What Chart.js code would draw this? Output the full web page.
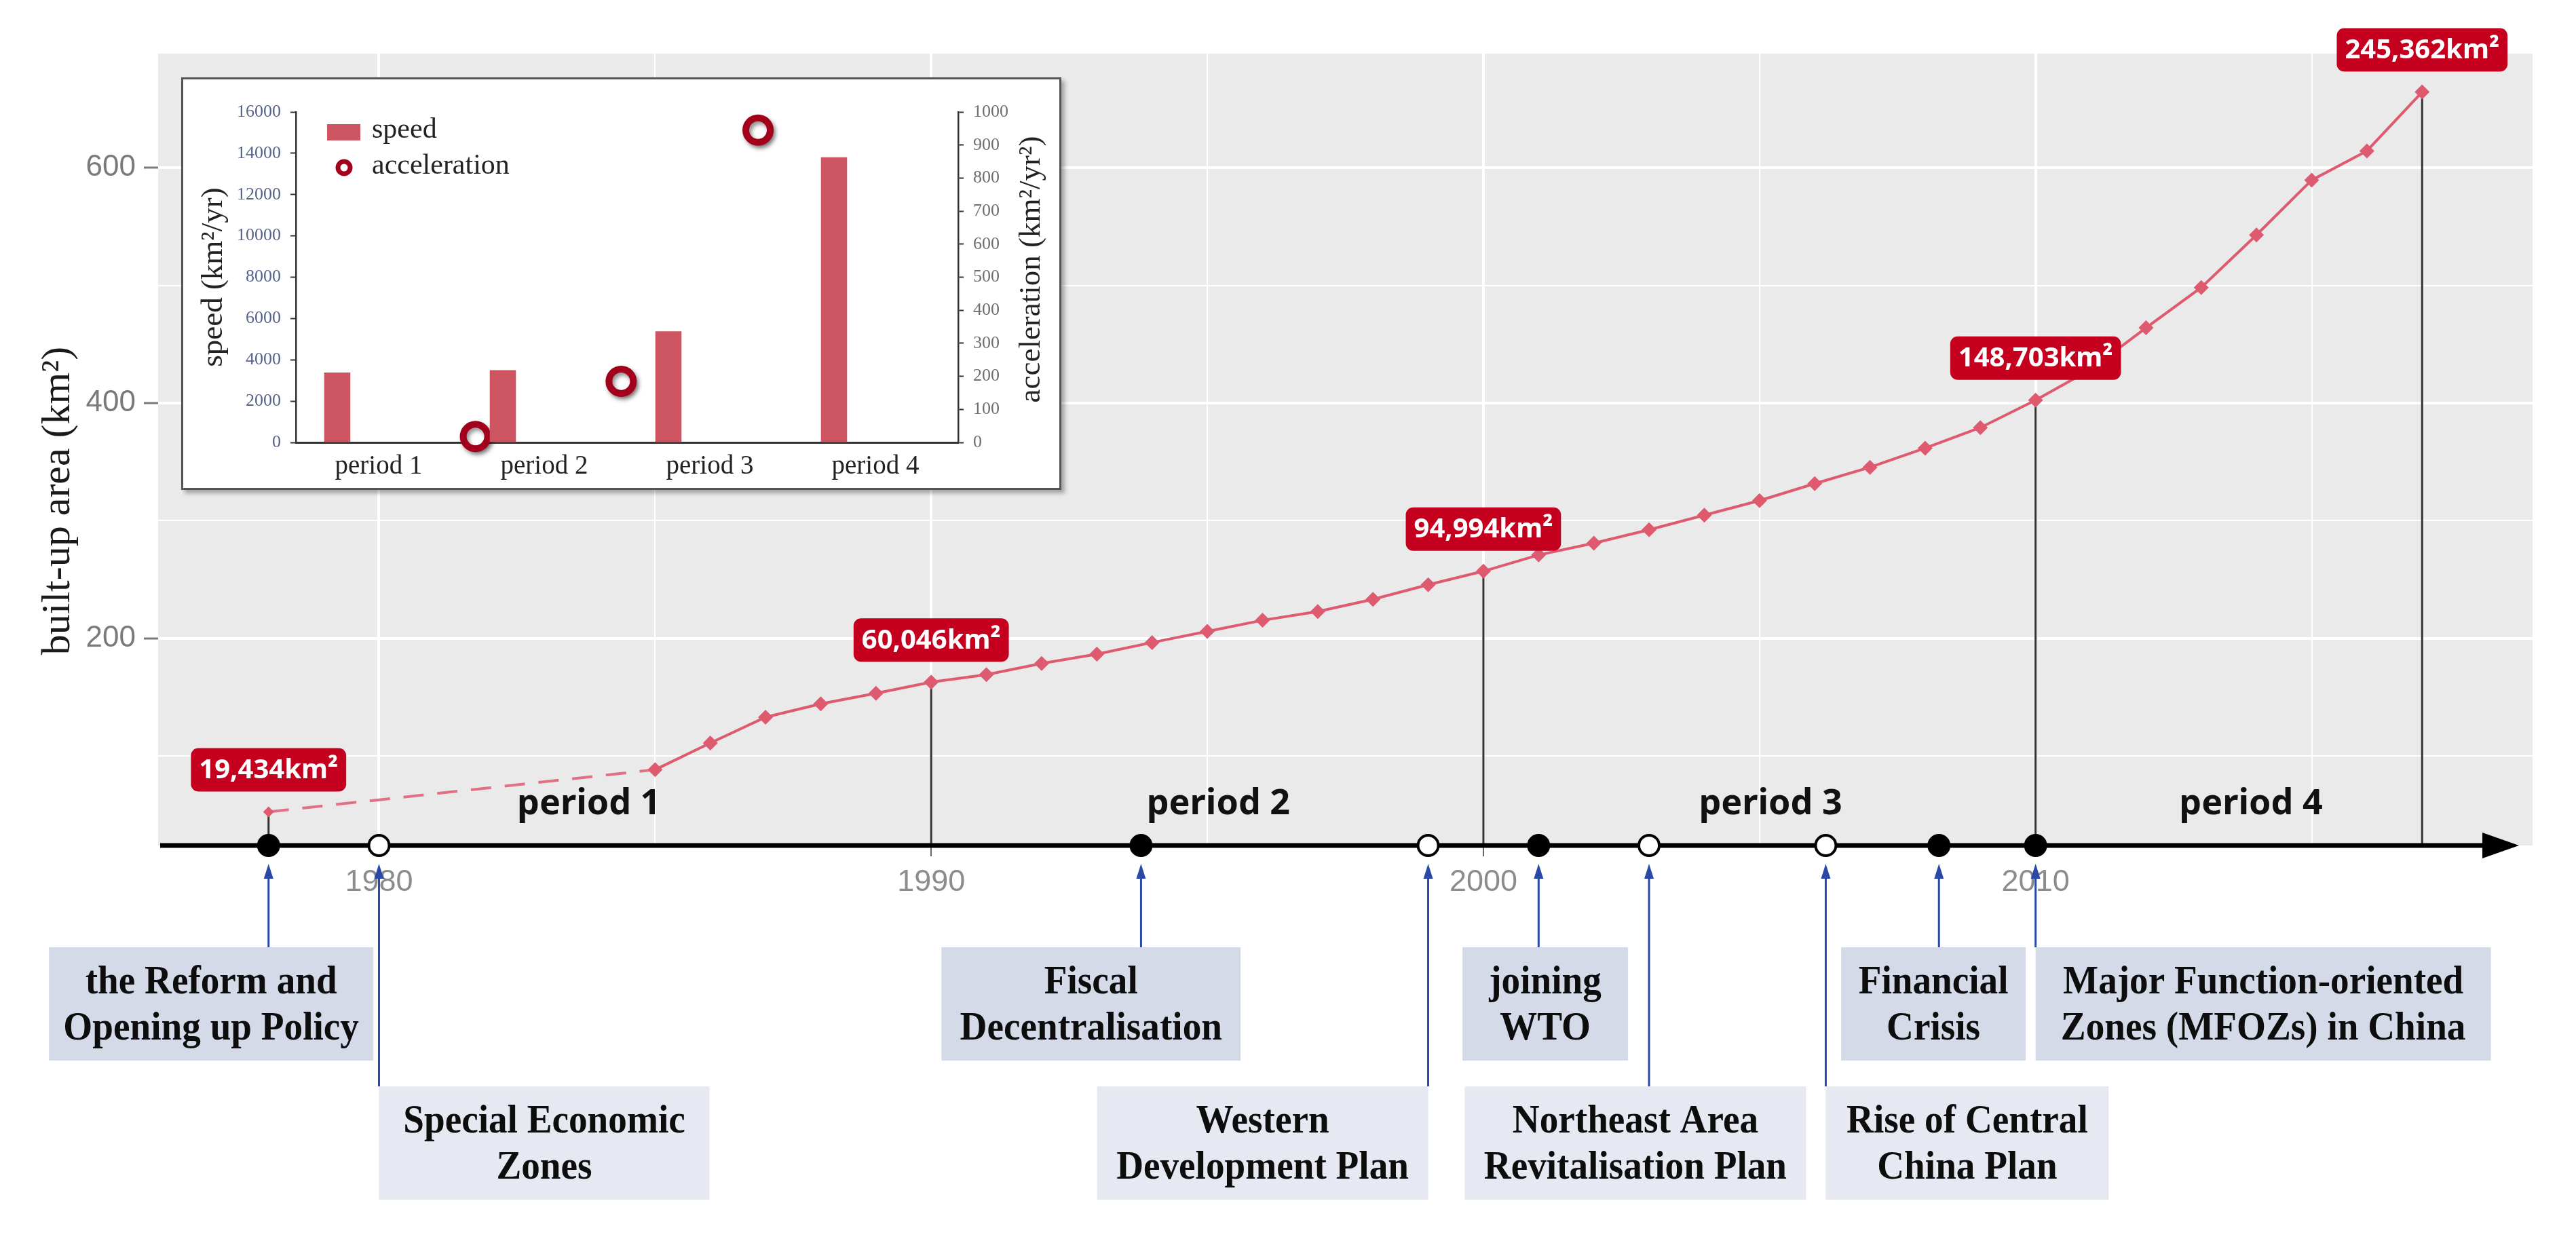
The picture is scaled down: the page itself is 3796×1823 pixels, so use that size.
<!DOCTYPE html>
<html>
<head>
<meta charset="utf-8">
<title>Built-up area expansion and policy timeline</title>
<script src="https://cdn.jsdelivr.net/npm/chart.js@4.4.1/dist/chart.umd.min.js"></script>
<style>
  html, body { margin: 0; padding: 0; background: #fff; }
  #wrap { position: relative; width: 3796px; height: 1823px; }
  #mainChart { position: absolute; left: 0; top: 0; }
  #insetChart { position: absolute; left: 267px; top: 114px; box-shadow: 5px 5px 6px rgba(0, 0, 0, 0.3); }
</style>
</head>
<body>
<div id="wrap">
  <canvas id="mainChart" width="3796" height="1823"></canvas>
  <canvas id="insetChart" width="1297" height="608"></canvas>
</div>
<script>
// ---- main series: built-up area by year (axis units) ----
const years = [1978, 1985, 1986, 1987, 1988, 1989, 1990, 1991, 1992, 1993, 1994, 1995,
  1996, 1997, 1998, 1999, 2000, 2001, 2002, 2003, 2004, 2005, 2006, 2007, 2008,
  2009, 2010, 2011, 2012, 2013, 2014, 2015, 2016, 2017];
const area = [52.6, 88.4, 111.1, 133.0, 144.4, 153.3, 162.8, 169.2, 178.7, 186.6, 196.5, 205.9,
  215.4, 222.8, 233.2, 245.6, 257.1, 270.9, 280.9, 292.3, 304.7, 317.1, 331.5, 345.4, 361.7,
  379.1, 402.4, 428.7, 464.0, 498.2, 542.9, 589.5, 614.3, 664.4];

// highlighted years and their labels
const labelYears = [1978, 1990, 2000, 2010, 2017];
const labelTexts = ["19,434km²", "60,046km²", "94,994km²", "148,703km²", "245,362km²"];

// axis ticks
const xMajorTicks = [1980, 1990, 2000, 2010];
const xMinorTicks = [1985, 1995, 2005, 2015];
const yMajorTicks = [200, 400, 600];
const yMinorTicks = [100, 300, 500];

// period names and where they sit along the timeline
const periodNames = ["period 1", "period 2", "period 3", "period 4"];
const periodCenters = [1983.8, 1995.2, 2005.2, 2013.9];

// policy events on the timeline
const eventYears = [1978, 1980, 1993.8, 1999, 2001, 2003, 2006.2, 2008.25, 2010];
const eventNames = [
  ["the Reform and", "Opening up Policy"],
  ["Special Economic", "Zones"],
  ["Fiscal", "Decentralisation"],
  ["Western", "Development Plan"],
  ["joining", "WTO"],
  ["Northeast Area", "Revitalisation Plan"],
  ["Rise of Central", "China Plan"],
  ["Financial", "Crisis"],
  ["Major Function-oriented", "Zones (MFOZs) in China"]
];
const eventHollow = [false, true, false, true, false, true, true, false, false];

// ---- inset: speed and acceleration per period ----
const insetPeriods = ["period 1", "period 2", "period 3", "period 4"];
const speed = [3386, 3495, 5376, 13806];          // km²/yr
const acceleration = [18, 185, 945];              // km²/yr²
const accelerationAt = [0.47, 1.46, 2.39];        // between periods (category index)

// ---- layout / style ----
const Y_MIN = 24, Y_MAX = 697;
const LINE_RED = "#DE5A6E";
const LABEL_RED = "#C5001F";
const BAR_RED = "#CD5461";
const RING_RED = "#A3001B";
const BOX_ROW = [0, 1, 0, 1, 0, 1, 1, 0, 0];                 // upper / lower row
const BOX_WIDTH = [478, 487, 441, 488, 244, 503, 417, 272, 671];
const BOX_ANCHOR = [0.677, 0, 0.667, 1, 0.46, 0.54, 0, 0.53, 0]; // arrow position across box
const BOX_FILL = ["#D4DAE8", "#E6E8F2"];
const PERIOD_LEVEL = 59;

function drawScaledText(ctx, text, x, y, sx) {
  ctx.save();
  ctx.translate(x, y);
  ctx.scale(sx, 1);
  ctx.fillText(text, 0, 0);
  ctx.restore();
}

function roundBox(ctx, x, y, w, h, r) {
  ctx.beginPath();
  ctx.moveTo(x + r, y);
  ctx.arcTo(x + w, y, x + w, y + h, r);
  ctx.arcTo(x + w, y + h, x, y + h, r);
  ctx.arcTo(x, y + h, x, y, r);
  ctx.arcTo(x, y, x + w, y, r);
  ctx.closePath();
}

const timelinePlugin = {
  id: "timeline",
  beforeDraw(chart) {
    const { ctx, chartArea: a } = chart;
    ctx.save();
    ctx.fillStyle = "#EAEAEA";
    ctx.fillRect(a.left, a.top, a.right - a.left, a.bottom - a.top);
    ctx.restore();
  },
  beforeDatasetsDraw(chart) {
    const { ctx, chartArea: a, scales: { x, y } } = chart;
    ctx.save();
    // drop lines from highlighted points
    ctx.strokeStyle = "#333";
    ctx.lineWidth = 3;
    labelYears.forEach(yr => {
      const i = years.indexOf(yr);
      const px = x.getPixelForValue(yr);
      ctx.beginPath();
      ctx.moveTo(px, y.getPixelForValue(area[i]));
      ctx.lineTo(px, a.bottom);
      ctx.stroke();
    });
    // timeline arrow
    ctx.strokeStyle = "#000";
    ctx.lineWidth = 7;
    ctx.beginPath();
    ctx.moveTo(a.left + 3, a.bottom);
    ctx.lineTo(a.right - 60, a.bottom);
    ctx.stroke();
    ctx.fillStyle = "#000";
    ctx.beginPath();
    ctx.moveTo(a.right - 20, a.bottom);
    ctx.lineTo(a.right - 74, a.bottom - 19);
    ctx.lineTo(a.right - 74, a.bottom + 19);
    ctx.closePath();
    ctx.fill();
    ctx.restore();
  },
  afterDatasetsDraw(chart) {
    const { ctx, scales: { x, y } } = chart;
    ctx.save();
    // period names
    ctx.fillStyle = "#111";
    ctx.font = "bold 52px 'Noto Sans'";
    ctx.textAlign = "center";
    ctx.textBaseline = "middle";
    periodNames.forEach((name, i) => {
      ctx.fillText(name, x.getPixelForValue(periodCenters[i]), y.getPixelForValue(PERIOD_LEVEL));
    });
    // value labels
    const meta = chart.getDatasetMeta(0);
    ctx.font = "bold 40px 'Noto Sans'";
    labelYears.forEach((yr, k) => {
      const pt = meta.data[years.indexOf(yr)];
      const w = ctx.measureText(labelTexts[k]).width + 24;
      const h = 64;
      const bx = pt.x - w / 2;
      const by = pt.y - 30 - h;
      ctx.fillStyle = LABEL_RED;
      roundBox(ctx, bx, by, w, h, 11);
      ctx.fill();
      ctx.fillStyle = "#fff";
      ctx.fillText(labelTexts[k], pt.x, by + h / 2 + 1);
    });
    ctx.restore();
  },
  afterDraw(chart) {
    const { ctx, chartArea: a, scales: { x } } = chart;
    ctx.save();
    // y axis title
    ctx.translate(86, 738);
    ctx.rotate(-Math.PI / 2);
    ctx.fillStyle = "#1a1a1a";
    ctx.font = "60px 'Liberation Serif'";
    ctx.textAlign = "center";
    ctx.textBaseline = "middle";
    ctx.fillText("built-up area (km²)", 0, 0);
    ctx.restore();

    // event boxes and arrows
    ctx.save();
    const tipY = a.bottom + 27;
    eventYears.forEach((yr, i) => {
      const px = x.getPixelForValue(yr);
      const w = BOX_WIDTH[i];
      const left = px - BOX_ANCHOR[i] * w;
      const top = a.bottom + (BOX_ROW[i] ? 355 : 150);
      const h = 167;
      ctx.fillStyle = BOX_FILL[BOX_ROW[i]];
      ctx.fillRect(left, top, w, h);

      ctx.fillStyle = "#0d0d0d";
      ctx.font = "bold 60px 'Liberation Serif'";
      ctx.textAlign = "center";
      ctx.textBaseline = "alphabetic";
      eventNames[i].forEach((line, j) => {
        drawScaledText(ctx, line, left + w / 2, top + 68 + j * 68, 0.92);
      });

      ctx.strokeStyle = "#2A48A6";
      ctx.fillStyle = "#2A48A6";
      ctx.lineWidth = 3;
      ctx.beginPath();
      ctx.moveTo(px, top);
      ctx.lineTo(px, tipY + 14);
      ctx.stroke();
      ctx.beginPath();
      ctx.moveTo(px, tipY);
      ctx.lineTo(px - 7, tipY + 22);
      ctx.lineTo(px + 7, tipY + 22);
      ctx.closePath();
      ctx.fill();
    });
    ctx.restore();
  }
};

const mainCtx = document.getElementById("mainChart").getContext("2d");
new Chart(mainCtx, {
  type: "line",
  data: {
    datasets: [
      {
        label: "built-up area",
        data: years.map((yr, i) => ({ x: yr, y: area[i] })),
        borderColor: LINE_RED,
        backgroundColor: LINE_RED,
        borderWidth: 4,
        pointStyle: "rectRot",
        pointRadius: ctx => (ctx.dataIndex === 0 ? 8 : 11),
        pointBorderWidth: 0,
        pointBackgroundColor: LINE_RED,
        segment: {
          borderDash: ctx => (ctx.p0DataIndex === 0 ? [30, 20] : undefined),
          borderColor: ctx => (ctx.p0DataIndex === 0 ? "#E27084" : undefined)
        },
        clip: false
      },
      {
        label: "events",
        data: eventYears.map(yr => ({ x: yr, y: Y_MIN })),
        showLine: false,
        pointRadius: 15,
        pointBorderWidth: 4,
        pointBorderColor: "#000",
        pointBackgroundColor: eventHollow.map(h => (h ? "#fff" : "#000")),
        clip: false
      }
    ]
  },
  options: {
    responsive: false,
    animation: false,
    devicePixelRatio: 1,
    events: [],
    layout: { padding: { top: 79, right: 64, left: 0, bottom: 0 } },
    plugins: { legend: { display: false }, tooltip: { enabled: false } },
    scales: {
      x: {
        type: "linear",
        min: 1976,
        max: 2019,
        afterBuildTicks: s => {
          s.ticks = [...xMajorTicks, ...xMinorTicks].sort((p, q) => p - q).map(v => ({ value: v }));
        },
        afterFit: s => { s.height = 577; },
        border: { display: false },
        grid: {
          color: "#fff",
          lineWidth: c => (xMajorTicks.includes(c.tick.value) ? 4 : 2),
          tickLength: 16,
          tickWidth: 2,
          tickColor: c => (xMajorTicks.includes(c.tick.value) ? "#666" : "rgba(0,0,0,0)")
        },
        ticks: {
          autoSkip: false,
          maxRotation: 0,
          padding: 12,
          color: "#8C8C8C",
          font: { family: "'Liberation Sans'", size: 45 },
          callback: v => (xMajorTicks.includes(v) ? String(v) : "")
        }
      },
      y: {
        min: Y_MIN,
        max: Y_MAX,
        afterBuildTicks: s => {
          s.ticks = [...yMajorTicks, ...yMinorTicks].sort((p, q) => p - q).map(v => ({ value: v }));
        },
        afterFit: s => { s.width = 233; },
        border: { display: false },
        grid: {
          color: "#fff",
          lineWidth: c => (yMajorTicks.includes(c.tick.value) ? 4 : 2),
          tickLength: 21,
          tickWidth: 3,
          tickColor: c => (yMajorTicks.includes(c.tick.value) ? "#7A7A7A" : "rgba(0,0,0,0)")
        },
        ticks: {
          padding: 12,
          color: "#7A7A7A",
          font: { family: "'Liberation Sans'", size: 44 },
          callback: v => (yMajorTicks.includes(v) ? String(v) : "")
        }
      }
    }
  },
  plugins: [timelinePlugin]
});

// ---- inset chart ----
const insetPlugin = {
  id: "insetFrame",
  beforeDraw(chart) {
    const { ctx, width, height } = chart;
    ctx.save();
    ctx.fillStyle = "#fff";
    ctx.fillRect(0, 0, width, height);
    ctx.restore();
  },
  beforeDatasetDraw(chart, args) {
    if (args.index !== 1) return;
    const ctx = chart.ctx;
    ctx.save();
    ctx.shadowColor = "rgba(0,0,0,0.45)";
    ctx.shadowBlur = 6;
    ctx.shadowOffsetX = 3;
    ctx.shadowOffsetY = 4;
  },
  afterDatasetDraw(chart, args) {
    if (args.index === 1) chart.ctx.restore();
  },
  afterDraw(chart) {
    const { ctx, width, height } = chart;
    ctx.save();
    // right axis title, reading upward
    ctx.translate(1253, 283);
    ctx.rotate(-Math.PI / 2);
    ctx.fillStyle = "#222";
    ctx.font = "45px 'Liberation Serif'";
    ctx.textAlign = "center";
    ctx.textBaseline = "middle";
    ctx.fillText("acceleration (km²/yr²)", 0, 0);
    ctx.restore();

    // legend
    ctx.save();
    ctx.fillStyle = BAR_RED;
    ctx.fillRect(215, 69, 49, 24);
    ctx.beginPath();
    ctx.arc(240, 133, 9, 0, Math.PI * 2);
    ctx.fillStyle = "#fff";
    ctx.fill();
    ctx.lineWidth = 7;
    ctx.strokeStyle = RING_RED;
    ctx.stroke();
    ctx.fillStyle = "#222";
    ctx.font = "42px 'Liberation Serif'";
    ctx.textBaseline = "middle";
    ctx.fillText("speed", 281, 78);
    ctx.fillText("acceleration", 281, 131);
    // frame
    ctx.strokeStyle = "#555";
    ctx.lineWidth = 3;
    ctx.strokeRect(1.5, 1.5, width - 3, height - 3);
    ctx.restore();
  }
};

const insetCtx = document.getElementById("insetChart").getContext("2d");
new Chart(insetCtx, {
  type: "bar",
  data: {
    labels: insetPeriods,
    datasets: [
      {
        label: "speed",
        data: speed,
        backgroundColor: BAR_RED,
        barPercentage: 0.316,
        categoryPercentage: 1,
        xAxisID: "x",
        yAxisID: "y"
      },
      {
        type: "scatter",
        label: "acceleration",
        data: accelerationAt.map((p, i) => ({ x: p, y: acceleration[i] })),
        xAxisID: "x2",
        yAxisID: "y2",
        pointRadius: 18,
        pointBorderWidth: 10,
        pointBackgroundColor: "#fff",
        pointBorderColor: RING_RED,
        clip: false
      }
    ]
  },
  options: {
    responsive: false,
    animation: false,
    devicePixelRatio: 1,
    events: [],
    layout: { padding: { top: 51, left: 0, right: 0, bottom: 0 } },
    plugins: { legend: { display: false }, tooltip: { enabled: false } },
    scales: {
      x: {
        type: "category",
        offset: true,
        afterFit: s => { s.height = 70; },
        grid: { display: false, drawTicks: false },
        border: { color: "#333", width: 3 },
        ticks: { padding: 12, color: "#222", font: { family: "'Liberation Serif'", size: 39 } }
      },
      x2: { type: "linear", display: false, min: -0.5, max: 3.5 },
      y: {
        position: "left",
        min: 0,
        max: 16000,
        afterFit: s => { s.width = 169; },
        border: { color: "#333", width: 2.5 },
        grid: { display: true, drawOnChartArea: false, drawTicks: true, tickLength: 8, tickColor: "#333", tickWidth: 2 },
        ticks: {
          stepSize: 2000,
          padding: 14,
          color: "#56638A",
          font: { family: "'Liberation Serif'", size: 26 },
          callback: v => String(v)
        },
        title: {
          display: true,
          text: "speed (km²/yr)",
          color: "#222",
          font: { family: "'Liberation Serif'", size: 45 },
          padding: { top: 21, bottom: 0 }
        }
      },
      y2: {
        position: "right",
        min: 0,
        max: 1000,
        afterFit: s => { s.width = 152; },
        border: { color: "#333", width: 2.5 },
        grid: { display: true, drawOnChartArea: false, drawTicks: true, tickLength: 8, tickColor: "#333", tickWidth: 2 },
        ticks: {
          stepSize: 100,
          padding: 14,
          color: "#6E6E6E",
          font: { family: "'Liberation Serif'", size: 26 },
          callback: v => String(v)
        }
      }
    }
  },
  plugins: [insetPlugin]
});
</script>
</body>
</html>
